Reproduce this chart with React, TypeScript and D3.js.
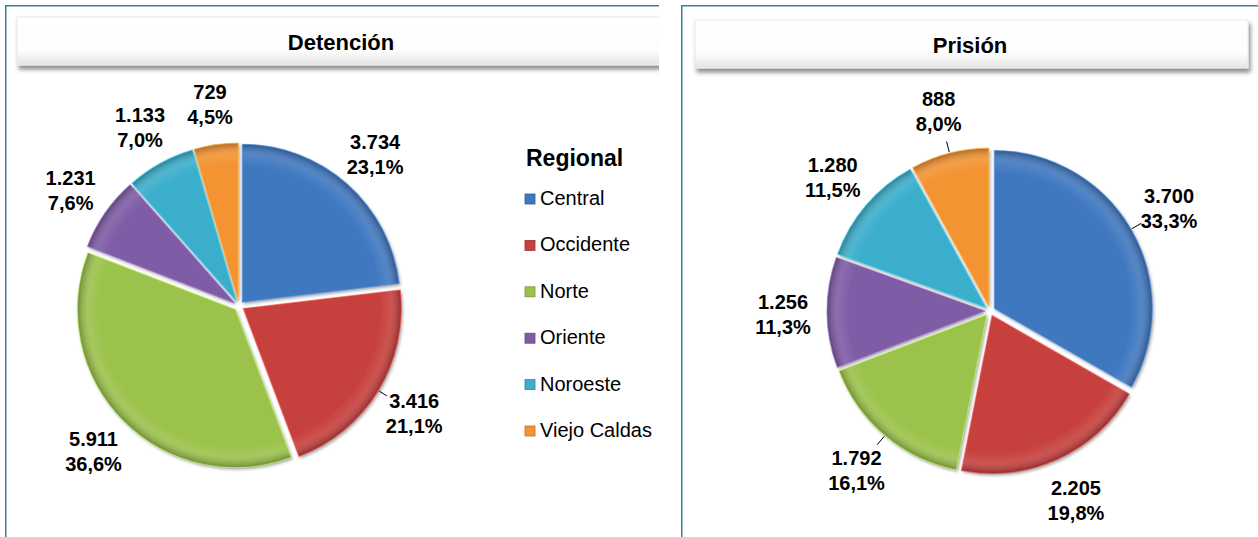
import React, { useRef, useEffect } from 'react';
import * as d3 from 'd3';

// data
const regions = ["Central", "Occidente", "Norte", "Oriente", "Noroeste", "Viejo Caldas"];
const detencionValues = [3734, 3416, 5911, 1231, 1133, 729];
const prisionValues = [3700, 2205, 1792, 1256, 1280, 888];
const colors = ["#3F78C0", "#C6403D", "#9BC24B", "#7F5BA6", "#3AAECB", "#F39332"];
const detencionLeaders = ["Occidente"];
const prisionLeaders = ["Central", "Norte", "Viejo Caldas"];

const W = 1258;
const H = 537;
const FONT = "Liberation Sans, Arial, sans-serif";

const fmtNum = (v: number) => d3.format(",")(v).replace(/,/g, ".");
const fmtPct = (p: number) => (p * 100).toFixed(1).replace(".", ",") + "%";

function App() {
  const ref = useRef<SVGSVGElement>(null);

  useEffect(() => {
    const svg = d3.select(ref.current);
    svg.selectAll("*").remove();

    const defs = svg.append("defs");

    // title box shadow
    const sh = defs.append("filter").attr("id", "boxShadow")
      .attr("x", "-5%").attr("y", "-20%").attr("width", "110%").attr("height", "160%");
    sh.append("feDropShadow").attr("dx", 2).attr("dy", 4).attr("stdDeviation", 2)
      .attr("flood-color", "#000").attr("flood-opacity", 0.45);

    const boxGrad = defs.append("linearGradient").attr("id", "boxGrad")
      .attr("x1", 0).attr("y1", 0).attr("x2", 0).attr("y2", 1);
    boxGrad.append("stop").attr("offset", "0%").attr("stop-color", "#ffffff");
    boxGrad.append("stop").attr("offset", "70%").attr("stop-color", "#fdfdfd");
    boxGrad.append("stop").attr("offset", "100%").attr("stop-color", "#e4e4e4");

    const sliceShadow = defs.append("filter").attr("id", "sliceShadow")
      .attr("x", "-20%").attr("y", "-20%").attr("width", "140%").attr("height", "140%");
    sliceShadow.append("feDropShadow").attr("dx", 1.5).attr("dy", 2).attr("stdDeviation", 1.5)
      .attr("flood-color", "#000").attr("flood-opacity", 0.35);

    defs.append("clipPath").attr("id", "leftClip")
      .append("rect").attr("x", 0).attr("y", 0).attr("width", 659).attr("height", H);

    const radius = 158;

    // rim shading gradient (center at slice origin)
    const rim = defs.append("radialGradient").attr("id", "rim")
      .attr("gradientUnits", "userSpaceOnUse")
      .attr("cx", 0).attr("cy", 0).attr("r", radius);
    rim.append("stop").attr("offset", "0%").attr("stop-color", "#fff").attr("stop-opacity", 0.0);
    rim.append("stop").attr("offset", "86%").attr("stop-color", "#fff").attr("stop-opacity", 0.0);
    rim.append("stop").attr("offset", "93%").attr("stop-color", "#fff").attr("stop-opacity", 0.1);
    rim.append("stop").attr("offset", "100%").attr("stop-color", "#000").attr("stop-opacity", 0.28);

    const drawPanel = (g: any, x0: number, boxX: number, boxY: number, boxW: number) => {
      g.append("rect")
        .attr("x", x0 + 0.75).attr("y", 5.75)
        .attr("width", 900).attr("height", 700)
        .attr("fill", "#fff")
        .attr("stroke", "#31849B").attr("stroke-width", 1.5);
      g.append("rect")
        .attr("x", boxX).attr("y", boxY).attr("width", boxW).attr("height", 48)
        .attr("fill", "url(#boxGrad)")
        .attr("stroke", "#e8e8e8").attr("stroke-width", 1)
        .attr("filter", "url(#boxShadow)");
      return g;
    };

    const drawPie = (g: any, cx: number, cy: number, values: number[], leaders: string[], labelR: number) => {
      const total = d3.sum(values);
      const pie = d3.pie<number>().sort(null).value(d => d);
      const arcs = pie(values);
      const arc = d3.arc<any>().innerRadius(0).outerRadius(radius);
      const explode = 5;

      const slices = g.append("g").attr("transform", `translate(${cx},${cy})`);
      arcs.forEach((a, i) => {
        const mid = (a.startAngle + a.endAngle) / 2;
        const dx = Math.sin(mid) * explode;
        const dy = -Math.cos(mid) * explode;
        const sg = slices.append("g").attr("transform", `translate(${dx},${dy})`);
        sg.append("path").attr("d", arc(a))
          .attr("fill", colors[i])
          .attr("filter", "url(#sliceShadow)");
        sg.append("path").attr("d", arc(a))
          .attr("fill", "url(#rim)");
        sg.append("path").attr("d", arc(a))
          .attr("fill", "none")
          .attr("stroke", d3.color(colors[i])!.brighter(0.6).toString())
          .attr("stroke-opacity", 0.6)
          .attr("stroke-width", 1.2);

        const lx = Math.sin(mid) * labelR;
        const ly = -Math.cos(mid) * labelR;
        const t = slices.append("text")
          .attr("x", lx).attr("y", ly)
          .attr("text-anchor", "middle")
          .attr("font-family", FONT).attr("font-weight", "bold").attr("font-size", 20)
          .attr("fill", "#000");
        t.append("tspan").attr("x", lx).attr("dy", "-0.2em").text(fmtNum(values[i]));
        t.append("tspan").attr("x", lx).attr("dy", "1.25em").text(fmtPct(values[i] / total));

        if (leaders.includes(regions[i])) {
          const r1 = radius + explode + 1;
          const r2 = labelR - 32;
          slices.append("line")
            .attr("x1", Math.sin(mid) * r1).attr("y1", -Math.cos(mid) * r1)
            .attr("x2", Math.sin(mid) * r2).attr("y2", -Math.cos(mid) * r2)
            .attr("stroke", "#000").attr("stroke-width", 1);
        }
      });
    };

    // left panel
    const left = svg.append("g").attr("clip-path", "url(#leftClip)");
    drawPanel(left, 5, 17, 17, 700);
    left.append("text").attr("x", 341).attr("y", 50)
      .attr("text-anchor", "middle")
      .attr("font-family", FONT).attr("font-weight", "bold").attr("font-size", 22)
      .text("Detención");
    drawPie(left, 239, 306, detencionValues, detencionLeaders, 205);

    // legend
    const legend = left.append("g");
    legend.append("text").attr("x", 526).attr("y", 166)
      .attr("font-family", FONT).attr("font-weight", "bold").attr("font-size", 23)
      .text("Regional");
    const ly = d3.scalePoint().domain(regions).range([198, 430]);
    regions.forEach((r, i) => {
      const y = ly(r)!;
      legend.append("rect").attr("x", 525).attr("y", y - 4).attr("width", 10).attr("height", 10)
        .attr("fill", colors[i]).attr("stroke", d3.color(colors[i])!.darker(0.7).toString()).attr("stroke-width", 0.8);
      legend.append("text").attr("x", 540).attr("y", y + 7)
        .attr("font-family", FONT).attr("font-size", 20).text(r);
    });

    // right panel
    const right = svg.append("g");
    drawPanel(right, 681, 695, 20, 553);
    right.append("text").attr("x", 970).attr("y", 53)
      .attr("text-anchor", "middle")
      .attr("font-family", FONT).attr("font-weight", "bold").attr("font-size", 22)
      .text("Prisión");
    drawPie(right, 990, 311, prisionValues, prisionLeaders, 207);
  }, []);

  return (
    <div style={{ position: "absolute", left: 0, top: 0, width: W, height: H, overflow: "hidden", background: "#fff" }}>
      <svg ref={ref} width={W} height={H} style={{ display: "block" }}></svg>
    </div>
  );
}

export default App;
